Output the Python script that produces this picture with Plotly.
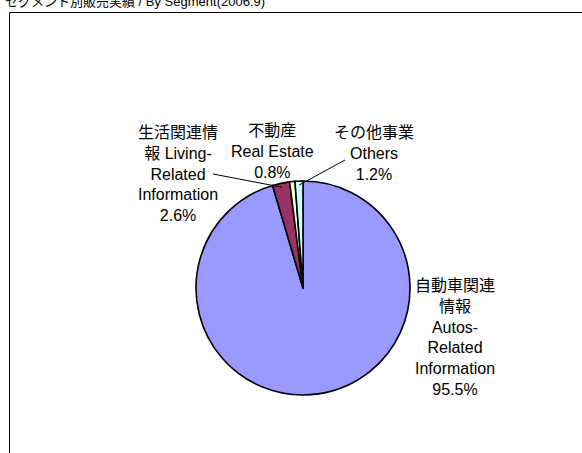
"""Pie chart: sales by segment (2006.9)."""

import math

import plotly.graph_objects as go

W, H = 582, 453

segments = ["自動車関連情報", "生活関連情報", "不動産", "その他事業"]
segments_en = ["Autos-Related Information", "Living-Related Information", "Real Estate", "Others"]
share_pct = [95.5, 2.6, 0.8, 1.2]
# label text as it wraps in the original chart
label_lines = [
    "自動車関連<br>情報<br>Autos-<br>Related<br>Information",
    "生活関連情<br>報 Living-<br>Related<br>Information",
    "不動産<br>Real Estate",
    "その他事業<br>Others",
]
colors = ["#9999FF", "#993366", "#FFFFCC", "#CCFFFF"]

FONT = "Liberation Sans, Arial, Noto Sans CJK JP, sans-serif"

# pie placement in pixels (centre + radius)
CX, CY, R = 303, 288, 107
# label centres in pixels, one per segment
label_pos = [(455, 337), (178, 174), (272, 152), (374, 154)]
# leader line text ends (None = no leader)
leader_from = [None, (213, 174), None, (345, 160)]


def px(x, y):
    return x / W, 1 - y / H


fig = go.Figure(
    go.Pie(
        labels=segments,
        values=share_pct,
        sort=False,
        direction="clockwise",
        rotation=0,
        textinfo="none",
        marker=dict(colors=colors, line=dict(color="black", width=1.6)),
        domain=dict(
            x=[(CX - R) / W, (CX + R) / W],
            y=[1 - (CY + R) / H, 1 - (CY - R) / H],
        ),
        showlegend=False,
        hovertemplate="%{label}<br>%{value}%<extra></extra>",
    )
)

total = sum(share_pct)
cum = 0.0
for i, v in enumerate(share_pct):
    mid = (cum + v / 2) / total * 2 * math.pi
    cum += v
    lx, ly = px(*label_pos[i])
    fig.add_annotation(
        x=lx, y=ly, xref="paper", yref="paper",
        xanchor="center", yanchor="middle",
        text=f"{label_lines[i]}<br>{v:.1f}%",
        showarrow=False, align="center",
        font=dict(family=FONT, size=16, color="black"),
    )
    if leader_from[i] is not None:
        ex = CX + (R - 4) * math.sin(mid)
        ey = CY - (R - 4) * math.cos(mid)
        sx, sy = leader_from[i]
        fig.add_shape(type="line", xref="paper", yref="paper",
                      x0=sx / W, y0=1 - sy / H, x1=ex / W, y1=1 - ey / H,
                      line=dict(color="black", width=1))

# chart area frame
fig.add_shape(type="rect", xref="paper", yref="paper",
              x0=9.5 / W, y0=-0.05, x1=1.05, y1=1 - 12.5 / H,
              line=dict(color="black", width=1), fillcolor="rgba(0,0,0,0)")

fig.add_annotation(
    x=3 / W, y=1, xref="paper", yref="paper", xanchor="left", yanchor="middle",
    yshift=-1, text="セグメント別販売実績 / By Segment(2006.9)", showarrow=False,
    font=dict(family=FONT, size=13, color="black"),
)

fig.update_layout(
    width=W, height=H,
    margin=dict(l=0, r=0, t=0, b=0),
    paper_bgcolor="white",
    plot_bgcolor="white",
)

fig.write_html(
    "out.html",
    config={"displayModeBar": False},
    post_script="document.body.style.margin='0';document.body.style.overflow='hidden';",
)
